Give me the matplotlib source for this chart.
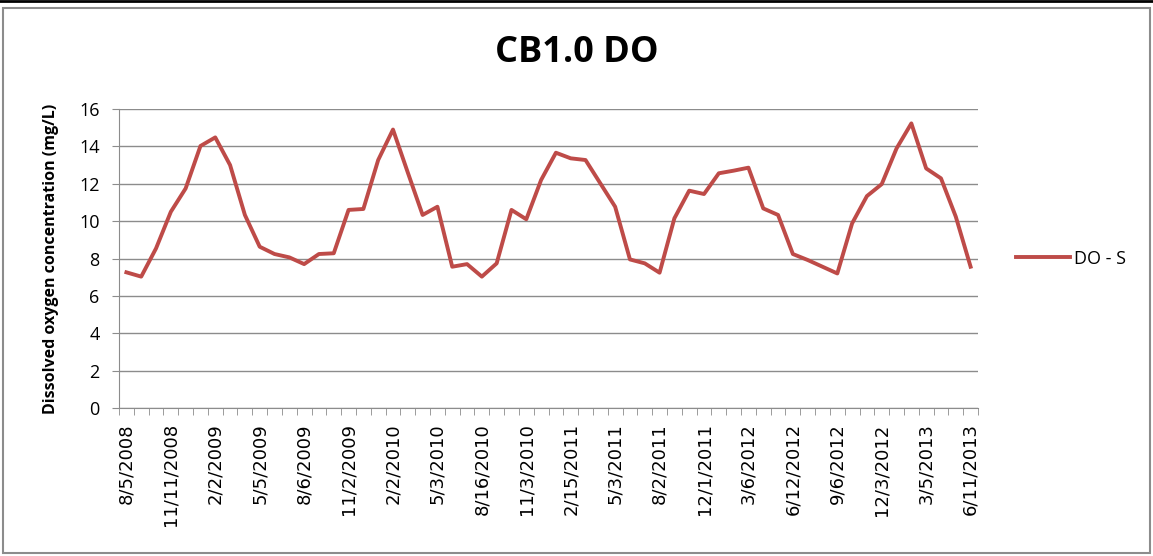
import numpy as np
import matplotlib
matplotlib.use("Agg")
import matplotlib.pyplot as plt
from matplotlib.patches import Rectangle
from matplotlib.lines import Line2D

# dissolved oxygen, surface (mg/L), one value per sampling date
do_s = [7.26, 7.03, 8.54, 10.5, 11.75, 14.02, 14.48, 13.0, 10.33, 8.63,
        8.24, 8.06, 7.70, 8.24, 8.28, 10.6, 10.65, 13.27, 14.9, 12.6,
        10.33, 10.77, 7.56, 7.70, 7.03, 7.74, 10.6, 10.1, 12.2, 13.66,
        13.36, 13.27, 12.02, 10.77, 7.95, 7.74, 7.24, 10.15, 11.63, 11.45,
        12.56, 12.7, 12.86, 10.68, 10.33, 8.24, 7.92, 7.56, 7.2, 9.88,
        11.34, 11.98, 13.89, 15.23, 12.82, 12.29, 10.24, 7.56]

# only every third date is labelled on the axis
date_labels = ["8/5/2008", "11/11/2008", "2/2/2009", "5/5/2009", "8/6/2009",
               "11/2/2009", "2/2/2010", "5/3/2010", "8/16/2010", "11/3/2010",
               "2/15/2011", "5/3/2011", "8/2/2011", "12/1/2011", "3/6/2012",
               "6/12/2012", "9/6/2012", "12/3/2012", "3/5/2013", "6/11/2013"]

plt.rcParams['font.family'] = ['Open Sans', 'DejaVu Sans']

W, H = 1153, 556
fig = plt.figure(figsize=(W / 100, H / 100), dpi=100)
fig.patches.append(Rectangle((3 / W, 3 / H), 1147 / W, 545 / H, transform=fig.transFigure,
                             fill=False, edgecolor='#8c8c8c', linewidth=1.5))
fig.add_artist(Line2D([0, 1], [1 - 1 / H, 1 - 1 / H], color='black', linewidth=2))

ax = fig.add_axes([119 / W, 148 / H, 859 / W, 299 / H])
x = np.arange(len(do_s))
ax.plot(x, do_s, color='#BE4B48', linewidth=2.8, label='DO - S')

ax.set_xlim(-0.5, len(do_s) - 0.5)
ax.set_ylim(0, 16)
ax.set_yticks(np.arange(0, 17, 2))
ax.grid(axis='y', color='#8c8c8c', linewidth=1)
ax.set_axisbelow(True)

ax.set_xticks(x[::3])
ax.set_xticklabels(date_labels, rotation=90)
for t in ax.get_xticklabels():
    t.set_fontfamily('DejaVu Sans')
    t.set_fontsize(13)
ax.set_xticks(np.arange(-0.5, len(do_s), 1), minor=True)
ax.tick_params(axis='x', which='major', length=0, pad=11)
ax.tick_params(axis='x', which='minor', length=5, color='#8c8c8c')
ax.tick_params(axis='y', length=5, color='#8c8c8c', labelsize=13, pad=9)

for s in ['top', 'right']:
    ax.spines[s].set_visible(False)
for s in ['left', 'bottom']:
    ax.spines[s].set_color('#8c8c8c')

ax.set_ylabel('Dissolved oxygen concentration (mg/L)', fontsize=11.5,
              fontweight='bold', labelpad=14)
fig.text(577 / W, 1 - 53 / H, 'CB1.0 DO', ha='center', va='center',
         fontsize=26, fontweight='bold')

ax.legend(loc='center left', bbox_to_anchor=(1.025, 0.5), frameon=False,
          fontsize=13, handlelength=3.0, handletextpad=0.2)

fig.savefig('out.png', dpi=100)
